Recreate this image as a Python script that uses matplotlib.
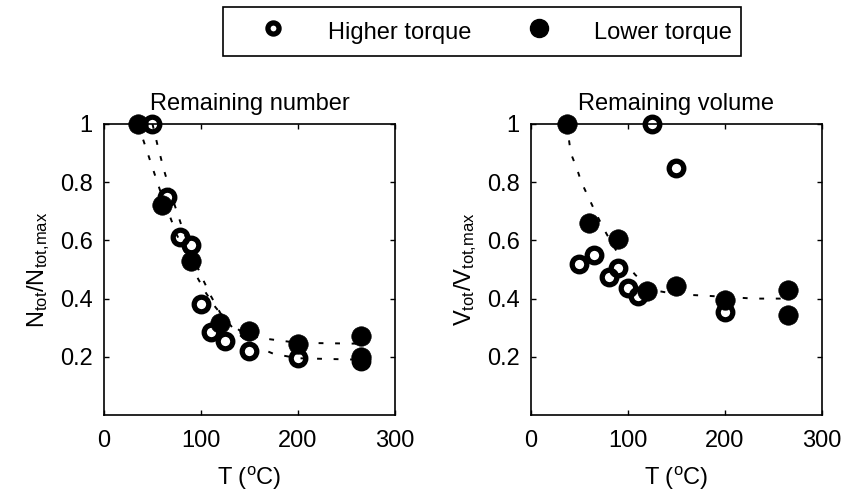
import matplotlib
matplotlib.use("Agg")
import matplotlib.pyplot as plt
from matplotlib.lines import Line2D

plt.rcParams["font.family"] = ["Liberation Sans", "DejaVu Sans"]
plt.rcParams["mathtext.fontset"] = "custom"
plt.rcParams["mathtext.rm"] = "Liberation Sans"
plt.rcParams["mathtext.it"] = "Liberation Sans:italic"
plt.rcParams["font.size"] = 17

# remaining number, N_tot / N_tot,max
num_hi_T = [50, 65, 78, 90, 100, 110, 125, 150, 200, 265]
num_hi_v = [1.0, 0.75, 0.61, 0.585, 0.38, 0.285, 0.255, 0.22, 0.195, 0.185]
num_lo_T = [35, 60, 90, 120, 150, 200, 265, 265]
num_lo_v = [1.0, 0.72, 0.53, 0.315, 0.29, 0.245, 0.27, 0.20]

# fitted trend lines (dotted)
num_fit_lo_T = [35, 42, 50, 58, 66, 75, 85, 95, 105, 115, 125, 140, 160, 200, 265]
num_fit_lo_v = [1.0, 0.93, 0.85, 0.77, 0.70, 0.62, 0.55, 0.48, 0.42, 0.37, 0.33, 0.29, 0.265, 0.248, 0.245]
num_fit_hi_T = [50, 55, 62, 70, 80, 90, 100, 110, 120, 135, 150, 175, 200, 265]
num_fit_hi_v = [1.0, 0.93, 0.84, 0.75, 0.65, 0.56, 0.48, 0.41, 0.35, 0.29, 0.245, 0.21, 0.195, 0.19]

# remaining volume, V_tot / V_tot,max
vol_hi_T = [50, 65, 80, 90, 100, 110, 125, 150, 200]
vol_hi_v = [0.52, 0.55, 0.475, 0.505, 0.435, 0.41, 1.0, 0.85, 0.355]
vol_lo_T = [37, 60, 90, 120, 150, 200, 265, 265]
vol_lo_v = [1.0, 0.66, 0.605, 0.425, 0.445, 0.395, 0.43, 0.345]

vol_fit_T = [37, 41, 47, 52, 59, 66, 75, 85, 95, 108, 120, 133, 150, 180, 230, 265]
vol_fit_v = [1.0, 0.90, 0.85, 0.80, 0.75, 0.70, 0.64, 0.58, 0.53, 0.48, 0.45, 0.425, 0.415, 0.41, 0.40, 0.40]

x_ticks = [0, 100, 200, 300]
y_ticks = [0.2, 0.4, 0.6, 0.8, 1.0]
y_tick_labels = ["0.2", "0.4", "0.6", "0.8", "1"]

open_kw = dict(ls="none", marker="o", ms=10.5, mfc="none", mec="black", mew=3.8)
fill_kw = dict(ls="none", marker="o", ms=14, mfc="black", mec="black", mew=0.5)
fit_kw = dict(color="black", lw=1.4, ls=(0, (2.5, 6)))

fig = plt.figure(figsize=(8.44, 4.93), dpi=100)
ax1 = fig.add_axes([0.1232, 0.1582, 0.3448, 0.5903])
ax2 = fig.add_axes([0.6291, 0.1582, 0.3448, 0.5903])


def style(ax, title, ylabel):
    ax.set_xlim(0, 300)
    ax.set_ylim(0, 1)
    ax.set_xticks(x_ticks)
    ax.set_yticks(y_ticks)
    ax.set_yticklabels(y_tick_labels)
    ax.tick_params(direction="in", length=3.5, width=1, top=True, right=True)
    ax.tick_params(axis="x", pad=11)
    ax.tick_params(axis="y", pad=8)
    for sp in ax.spines.values():
        sp.set_linewidth(1.2)
    ax.set_title(title, pad=10, fontsize=17)
    ax.set_xlabel(r"T ($^{\rm o}$C)", labelpad=9)
    ax.set_ylabel(ylabel, labelpad=6)


ax1.plot(num_fit_lo_T, num_fit_lo_v, **fit_kw)
ax1.plot(num_fit_hi_T, num_fit_hi_v, **fit_kw)
ax1.plot(num_hi_T, num_hi_v, clip_on=False, **open_kw)
ax1.plot(num_lo_T, num_lo_v, clip_on=False, **fill_kw)
style(ax1, "Remaining number", r"N$_{\rm tot}$/N$_{\rm tot{,}max}$")

ax2.plot(vol_fit_T, vol_fit_v, **fit_kw)
ax2.plot(vol_hi_T, vol_hi_v, clip_on=False, **open_kw)
ax2.plot(vol_lo_T, vol_lo_v, clip_on=False, **fill_kw)
style(ax2, "Remaining volume", r"V$_{\rm tot}$/V$_{\rm tot{,}max}$")

handles = [
    Line2D([], [], ls="none", marker="o", ms=8, mfc="none", mec="black", mew=3.8),
    Line2D([], [], ls="none", marker="o", ms=13, mfc="black", mec="black"),
]
leg = fig.legend(handles, ["Higher torque", "Lower torque"], ncol=2,
                 loc="upper left", bbox_to_anchor=(0.2642, 0.9858),
                 borderaxespad=0, fontsize=17, frameon=True, fancybox=False,
                 framealpha=1, edgecolor="black", borderpad=0.4,
                 handlelength=3.44, handleheight=1.6,
                 handletextpad=0.62, columnspacing=1.12)
leg.get_frame().set_linewidth(1.2)

fig.savefig("out.png", dpi=100)
